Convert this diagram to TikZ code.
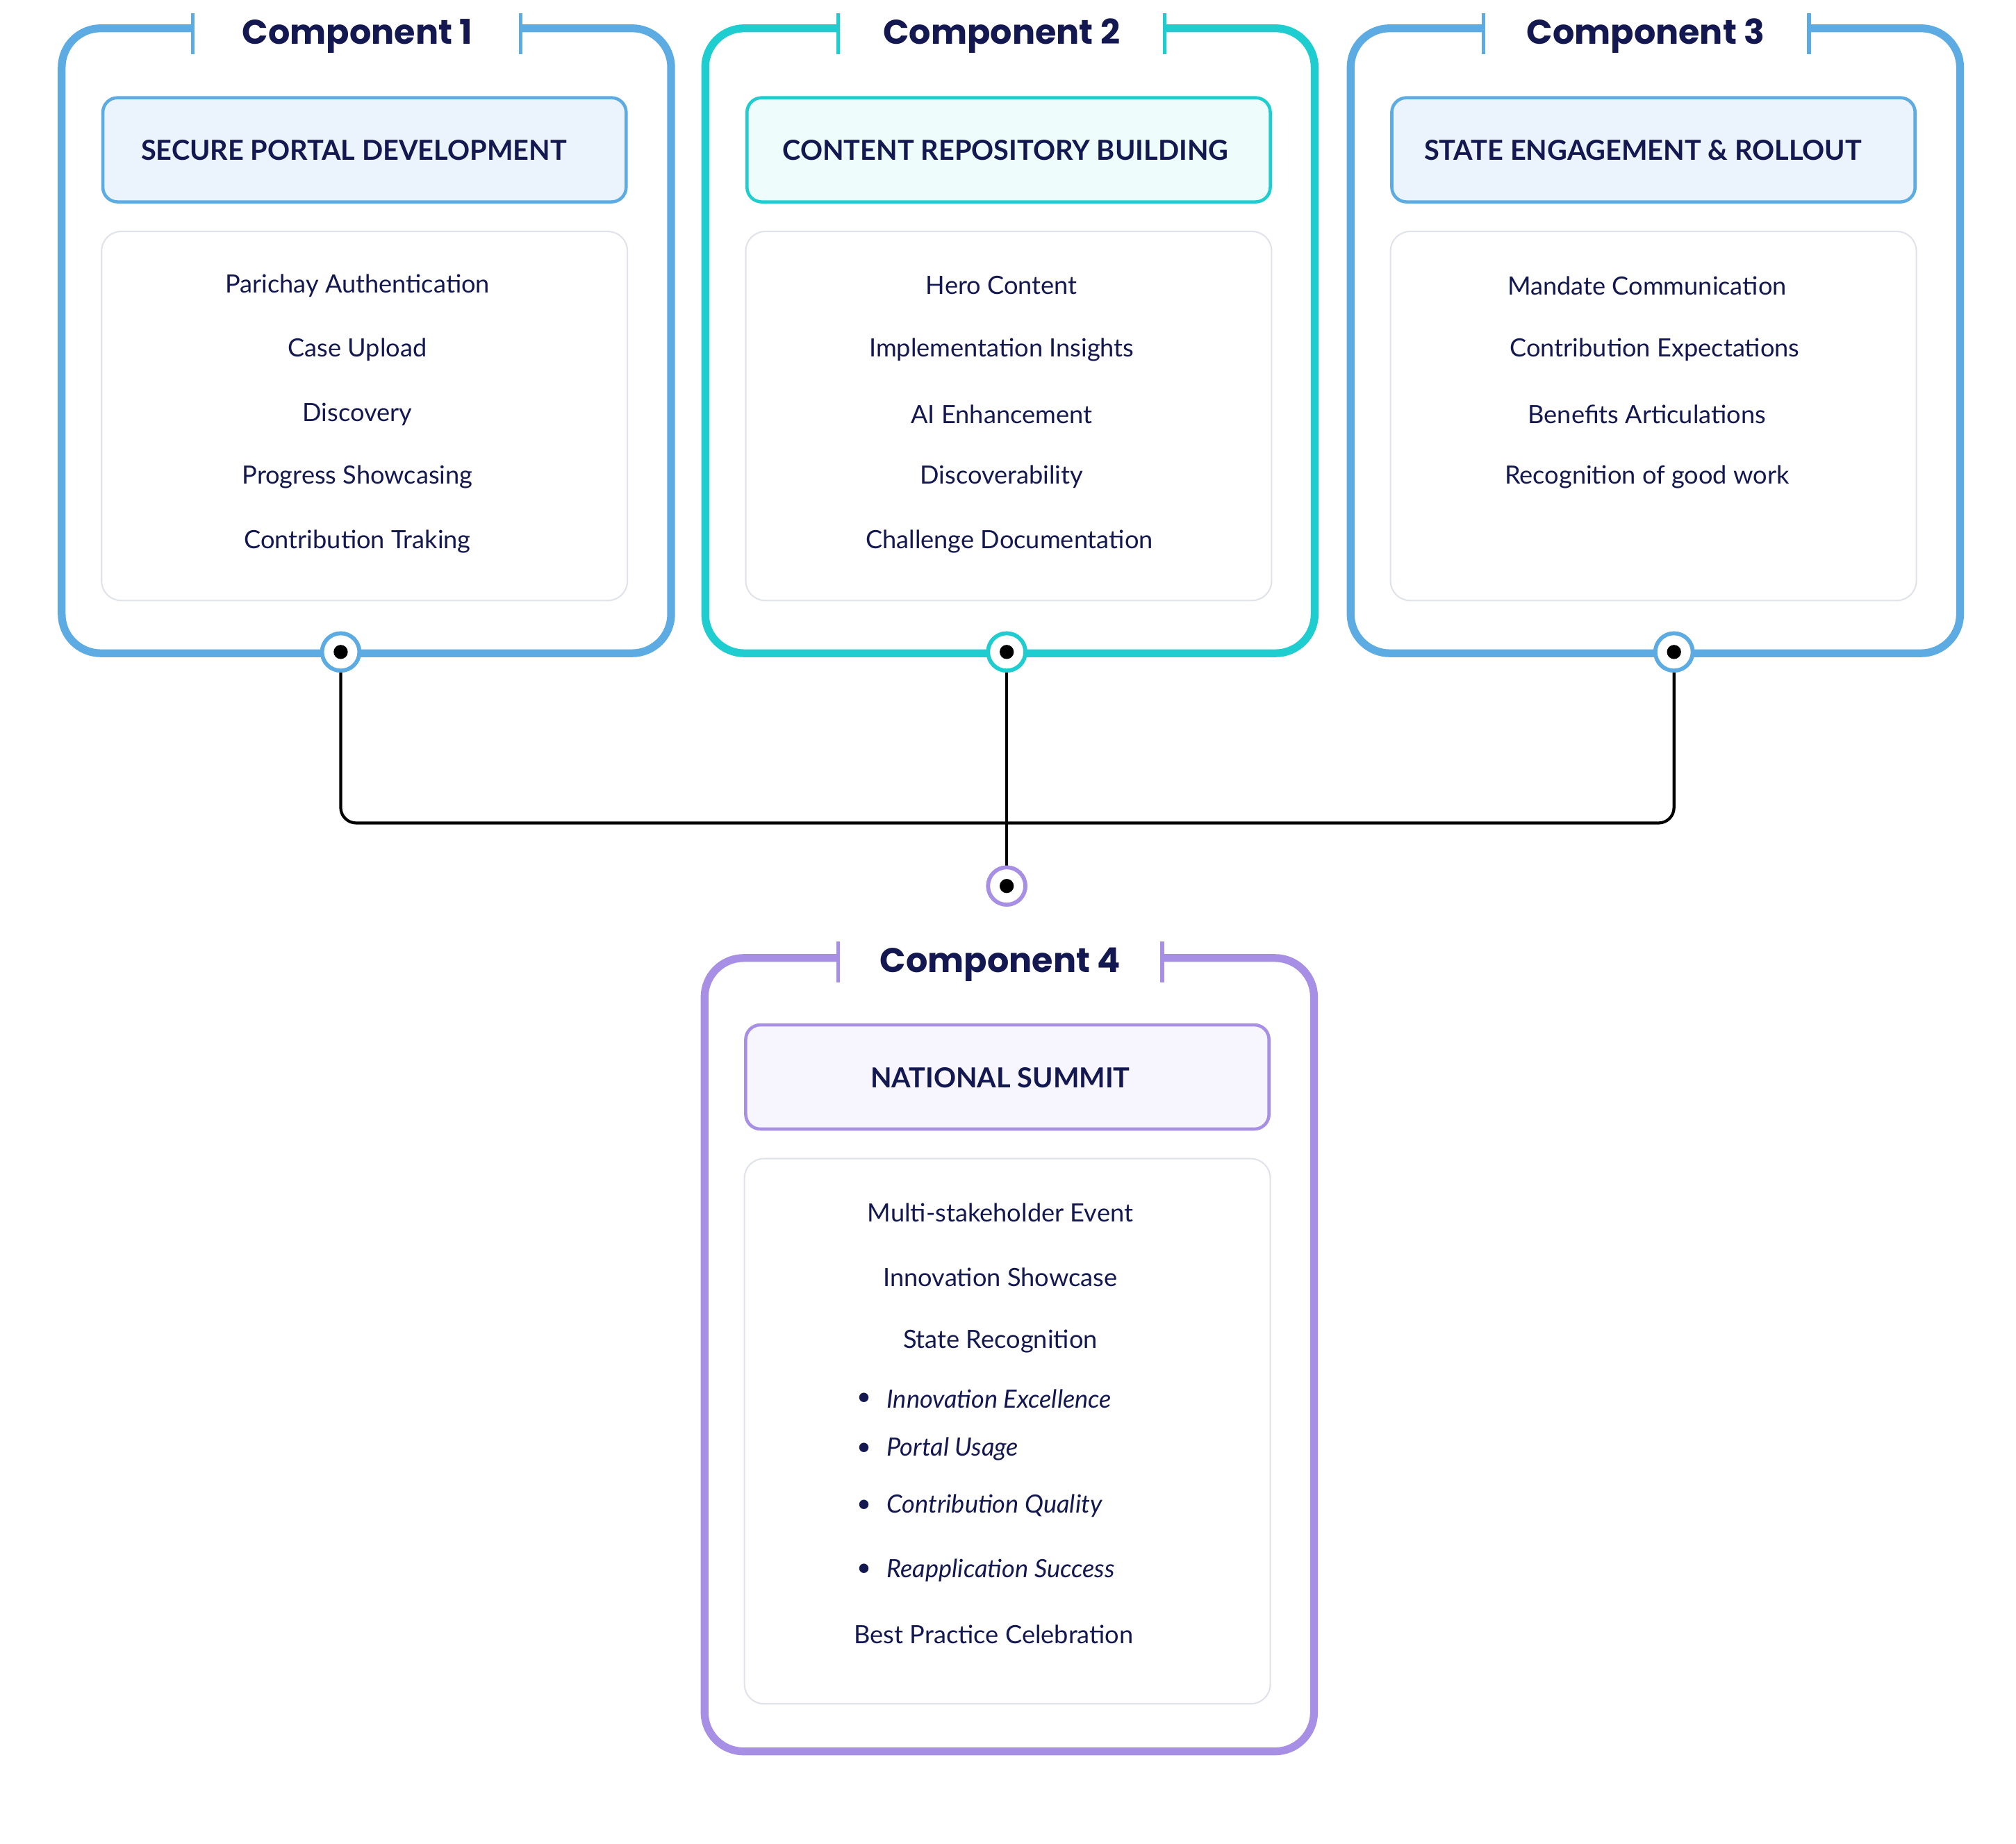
\documentclass[tikz,border=0pt]{standalone}
\usepackage{fontspec}
\setmainfont{Lato}
\newfontfamily\titlefont{Poppins}
\usetikzlibrary{positioning}
\definecolor{navy}{HTML}{141850}
\definecolor{cblue}{HTML}{5DABE3}
\definecolor{cteal}{HTML}{1DCDD0}
\definecolor{cpurple}{HTML}{A68FE4}
\definecolor{fblue}{HTML}{EBF4FC}
\definecolor{fteal}{HTML}{EEFCFC}
\definecolor{fpurple}{HTML}{F7F5FD}
\definecolor{lgrey}{HTML}{E1E3EA}
\newcommand{\px}{0.01851cm}

\tikzset{
  outerbox/.style = {rectangle, draw=#1, line width=3.2pt, rounded corners=16pt,
                     minimum width=474*\px},
  headbox/.style  = {rectangle, draw=#1, line width=1.3pt, rounded corners=6pt,
                     minimum width=407*\px, minimum height=81*\px},
  itembox/.style  = {rectangle, draw=lgrey, line width=0.6pt, fill=white,
                     rounded corners=8pt, minimum width=409*\px},
  titlegap/.style = {fill=white, inner sep=0pt, minimum width=255*\px,
                     minimum height=24*\px, text=navy, font=\titlefont\bfseries\fontsize{14}{16}\selectfont},
  tick/.style     = {draw=#1, line width=1.5pt},
  headtext/.style = {text=navy, font=\fontsize{11.3}{13}\selectfont\bfseries},
  item/.style     = {text=navy, font=\fontsize{10.3}{12}\selectfont},
  bitem/.style    = {text=navy, font=\fontsize{10.3}{12}\selectfont\itshape, anchor=west},
  port/.style     = {circle, draw=#1, fill=white, line width=1.6pt, minimum size=29*\px,
                     inner sep=0pt},
  portdot/.style  = {circle, fill=black, minimum size=11*\px, inner sep=0pt}
}

\begin{document}
\begin{tikzpicture}[x=\px, y=-\px]

    \useasboundingbox (0,0) rectangle (1568,1434);

    % component 1
    \node[outerbox=cblue, minimum height=486*\px] (Comp1) at (285,265) {};
    \node[titlegap] (Title1) at (278,28) {Component 1};
    \draw[tick=cblue] (150,10) -- (150,42) (405,10) -- (405,42);
    \node[headbox=cblue, fill=fblue] (Head1) at (283.5,116.5) {};
    \node[headtext, anchor=west] at (103,117) {SECURE PORTAL DEVELOPMENT};
    \node[itembox, minimum height=287*\px] (Items1) at (283.5,323.5) {};
    \node[item] at (278,222) {Parichay Authentication};
    \node[item] at (278,272) {Case Upload};
    \node[item] at (278,322) {Discovery};
    \node[item] at (278,371) {Progress Showcasing};
    \node[item] at (278,421) {Contribution Traking};

    % component 2
    \node[outerbox=cteal, minimum height=486*\px] (Comp2) at (785.5,265) {};
    \node[titlegap] (Title2) at (779,28) {Component 2};
    \draw[tick=cteal] (652,10) -- (652,42) (906,10) -- (906,42);
    \node[headbox=cteal, fill=fteal] (Head2) at (784.5,116.5) {};
    \node[headtext, anchor=west] at (602,117) {CONTENT REPOSITORY BUILDING};
    \node[itembox, minimum height=287*\px] (Items2) at (784.5,323.5) {};
    \node[item] at (779,222) {Hero Content};
    \node[item] at (779,272) {Implementation Insights};
    \node[item] at (779,322) {AI Enhancement};
    \node[item] at (779,371) {Discoverability};
    \node[item] at (785,421) {Challenge Documentation};

    % component 3
    \node[outerbox=cblue, minimum height=486*\px] (Comp3) at (1287.5,265) {};
    \node[titlegap] (Title3) at (1280,28) {Component 3};
    \draw[tick=cblue] (1154,10) -- (1154,42) (1407,10) -- (1407,42);
    \node[headbox=cblue, fill=fblue] (Head3) at (1286,116.5) {};
    \node[headtext, anchor=west] at (1101,117) {STATE ENGAGEMENT \& ROLLOUT};
    \node[itembox, minimum height=287*\px] (Items3) at (1286,323.5) {};
    \node[item] at (1281,222) {Mandate Communication};
    \node[item] at (1287,272) {Contribution Expectations};
    \node[item] at (1281,322) {Benefits Articulations};
    \node[item] at (1281,371) {Recognition of good work};

    % component 4
    \node[outerbox=cpurple, minimum height=617*\px] (Comp4) at (785,1053.5) {};
    \node[titlegap] (Title4) at (778,750) {Component 4};
    \draw[tick=cpurple] (652,732) -- (652,764) (904,732) -- (904,764);
    \node[headbox=cpurple, fill=fpurple] (Head4) at (783.5,837.5) {};
    \node[headtext] at (778,838) {NATIONAL SUMMIT};
    \node[itembox, minimum height=424*\px] (Items4) at (783.5,1113) {};
    \node[item] at (778,943) {Multi-stakeholder Event};
    \node[item] at (778,993) {Innovation Showcase};
    \node[item] at (778,1043) {State Recognition};
    \node[item] at (672,1088) {\textbullet};
    \node[bitem] at (683,1088) {Innovation Excellence};
    \node[item] at (672,1127) {\textbullet};
    \node[bitem] at (683,1127) {Portal Usage};
    \node[item] at (672,1171) {\textbullet};
    \node[bitem] at (683,1171) {Contribution Quality};
    \node[item] at (672,1221) {\textbullet};
    \node[bitem] at (683,1221) {Reapplication Success};
    \node[item] at (773,1271) {Best Practice Celebration};

    % ports and connectors
    \node[port=cblue] (Port1) at (265,507) {};
    \node[port=cteal] (Port2) at (783,507) {};
    \node[port=cblue] (Port3) at (1302,507) {};
    \node[port=cpurple] (Port4) at (783,689) {};
    \coordinate (Join) at (783,640);
    \draw[line width=1.2pt, rounded corners=12*\px]
        (Port1.center) |- (Join) -| (Port3.center);
    \draw[line width=1.2pt] (Port2.center) -- (Port4.center);

    \node[port=cblue] at (Port1.center) {};
    \node[portdot] at (Port1.center) {};
    \node[port=cteal] at (Port2.center) {};
    \node[portdot] at (Port2.center) {};
    \node[port=cblue] at (Port3.center) {};
    \node[portdot] at (Port3.center) {};
    \node[port=cpurple] at (Port4.center) {};
    \node[portdot] at (Port4.center) {};

\end{tikzpicture}
\end{document}
